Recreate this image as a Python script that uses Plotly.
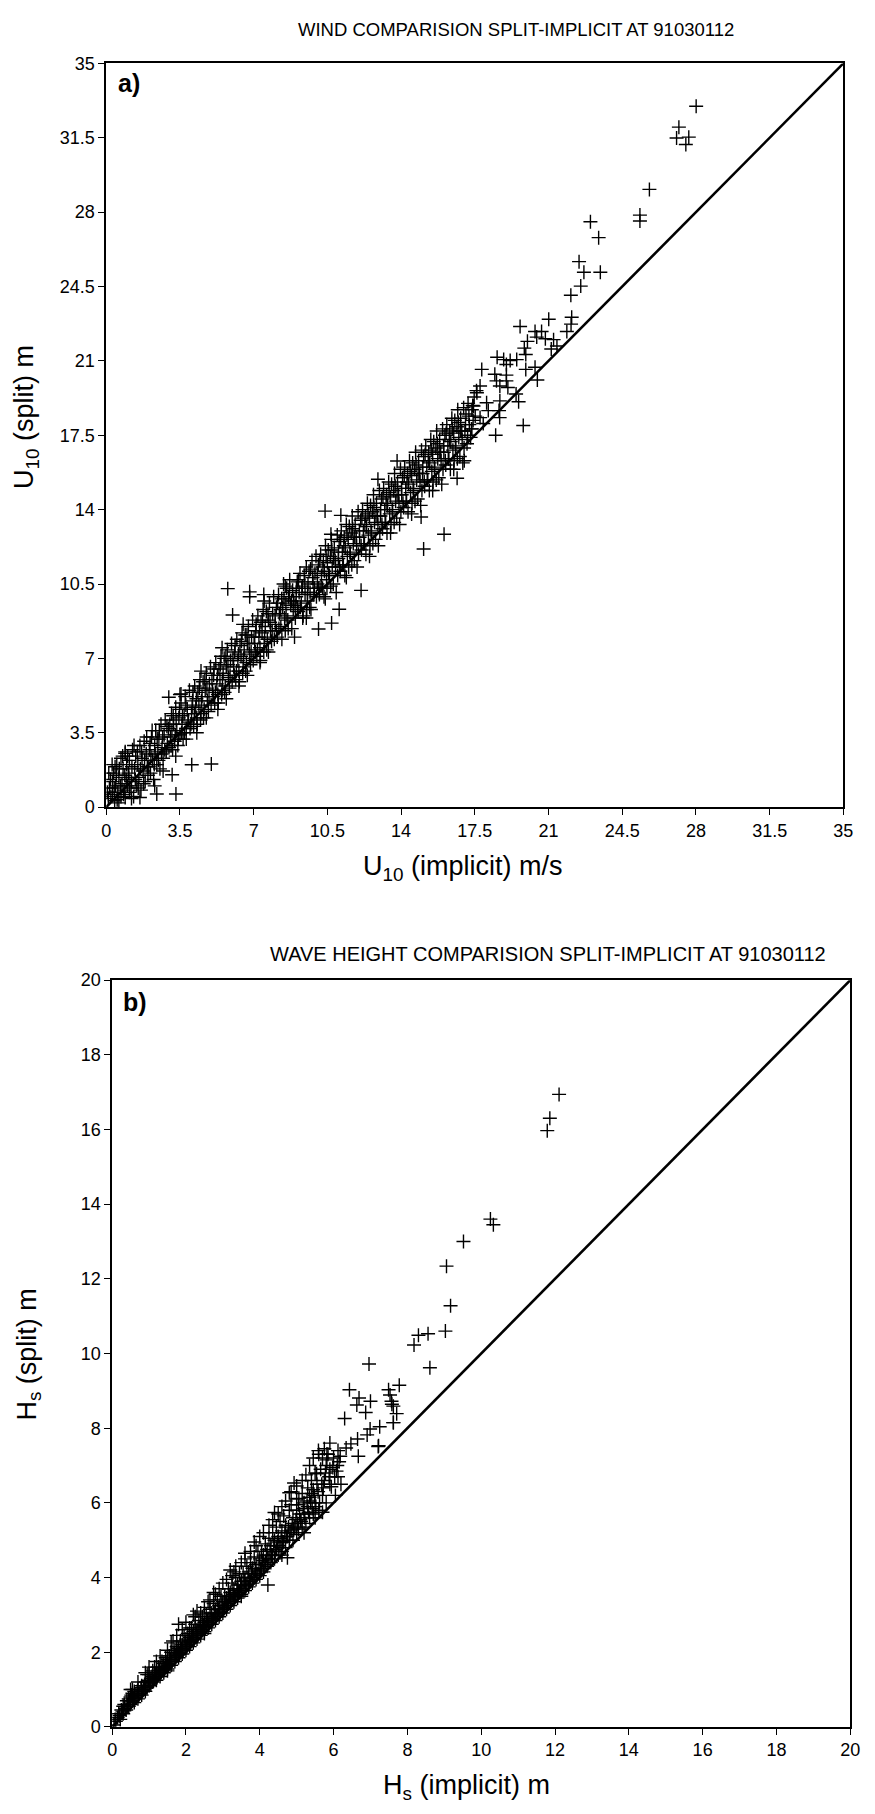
import plotly.graph_objects as go

W, H = 875, 1814

# ---------------- data: panel a (wind) ----------------
wind_band = [
    (0.1,0.4),(0.15,0.9),(0.2,1.3),(0.3,0.6),(0.35,1.6),(0.4,0.3),(0.45,1.0),(0.5,2.0),(0.55,0.7),(0.6,1.4),
    (0.7,0.5),(0.7,2.3),(0.75,1.1),(0.8,1.8),(0.85,0.8),(0.9,2.6),(0.95,1.3),(0.6,0.2),(0.3,1.2),(0.9,0.45),
    (1.05,1.6),(1.1,0.7),(1.1,2.2),(1.2,1.2),(1.25,2.7),(1.3,0.5),(1.35,1.8),(1.4,2.4),(1.45,1.0),(1.5,2.0),
    (1.55,1.4),(1.6,2.9),(1.65,0.8),(1.7,2.3),(1.75,1.7),(1.8,3.1),(1.85,1.2),(1.9,2.5),(1.95,1.9),(1.2,0.4),(1.6,0.45),(1.0,1.0),
    (2.05,2.7),(2.1,1.6),(2.15,3.3),(2.2,2.2),(2.25,1.3),(2.3,2.9),(2.35,3.6),(2.4,2.0),(2.45,2.6),(2.5,3.2),
    (2.55,1.8),(2.6,3.9),(2.65,2.8),(2.7,2.3),(2.75,3.4),(2.8,4.1),(2.85,2.6),(2.9,3.0),(2.95,3.7),(2.3,1.0),(2.7,1.7),
    (3.05,3.3),(3.1,4.4),(3.15,2.7),(3.2,3.9),(3.25,3.1),(3.3,4.7),(3.35,3.6),(3.4,2.9),(3.45,4.2),(3.5,3.4),
    (3.55,4.9),(3.6,3.9),(3.65,3.2),(3.7,4.4),(3.75,5.2),(3.8,3.7),(3.85,4.6),(3.9,4.1),(3.95,5.5),(3.3,2.4),(3.8,3.2),(3.5,5.3),
    (4.05,4.4),(4.1,5.0),(4.15,3.8),(4.2,5.7),(4.25,4.7),(4.3,4.2),(4.35,5.4),(4.4,4.8),(4.45,6.0),(4.5,4.4),
    (4.55,5.2),(4.6,5.9),(4.65,4.6),(4.7,5.5),(4.75,6.3),(4.8,5.0),(4.85,4.5),(4.9,5.8),(4.95,6.6),(4.3,3.5),(4.75,4.2),(4.5,6.4),
    (5.05,5.5),(5.1,6.2),(5.15,4.9),(5.2,6.8),(5.25,5.8),(5.3,5.3),(5.35,6.5),(5.4,6.0),(5.45,7.1),(5.5,5.5),
    (5.55,6.3),(5.6,7.0),(5.65,5.7),(5.7,6.6),(5.75,7.4),(5.8,6.1),(5.85,5.6),(5.9,6.9),(5.95,7.7),(5.3,4.6),(5.7,5.1),(5.5,7.5),
    (6.05,6.6),(6.1,7.3),(6.15,6.0),(6.2,7.9),(6.25,6.9),(6.3,6.4),(6.35,7.6),(6.4,7.1),(6.45,8.2),(6.5,6.6),
    (6.55,7.4),(6.6,8.1),(6.65,6.8),(6.7,7.7),(6.75,8.5),(6.8,7.2),(6.85,6.7),(6.9,8.0),(6.95,8.8),(6.3,5.7),(6.7,6.2),(6.5,8.6),
    (7.05,7.7),(7.1,8.3),(7.15,7.1),(7.2,9.0),(7.25,8.0),(7.3,7.5),(7.35,8.7),(7.4,8.2),(7.45,9.3),(7.5,7.7),
    (7.55,8.5),(7.6,9.2),(7.65,7.9),(7.7,8.8),(7.75,9.6),(7.8,8.3),(7.85,7.8),(7.9,9.1),(7.95,9.9),(7.3,6.8),(7.7,7.3),(7.5,9.7),
    (8.03,8.6),(8.08,9.4),(8.12,8.0),(8.18,10.0),(8.22,9.1),(8.29,8.5),(8.33,9.8),(8.38,9.4),(8.42,10.5),(8.47,8.9),
    (8.53,9.6),(8.57,10.3),(8.62,8.8),(8.66,9.9),(8.71,10.7),(8.76,9.5),(8.81,8.4),(8.85,10.2),(8.9,9.7),(8.94,8.0),(8.97,9.5),(8.5,10.4),
    (9.02,9.9),(9.07,10.6),(9.11,9.2),(9.16,10.1),(9.2,11.0),(9.26,9.6),(9.31,10.4),(9.35,9.0),(9.4,10.9),(9.44,10.0),
    (9.5,11.3),(9.55,9.7),(9.58,10.5),(9.63,11.1),(9.68,10.1),(9.72,9.3),(9.77,11.6),(9.82,10.6),(9.86,10.0),(9.91,11.0),(9.96,11.8),(9.5,8.9),
    (10.03,10.5),(10.07,11.4),(10.12,10.0),(10.18,11.9),(10.22,10.9),(10.27,10.3),(10.31,11.6),(10.36,11.1),(10.41,12.3),(10.46,10.7),
    (10.5,11.5),(10.54,12.1),(10.6,10.9),(10.64,11.8),(10.69,12.6),(10.73,11.3),(10.78,10.5),(10.83,12.2),(10.87,11.6),(10.92,10.1),(10.97,12.8),(10.4,9.8),
    (11.02,11.7),(11.06,12.5),(11.11,11.1),(11.16,13.0),(11.21,12.0),(11.26,11.4),(11.3,12.7),(11.35,12.2),(11.4,13.3),(11.45,11.8),
    (11.49,12.6),(11.54,13.2),(11.59,11.9),(11.63,12.9),(11.68,13.7),(11.73,12.4),(11.78,11.6),(11.82,13.3),(11.87,12.7),(11.91,11.3),(11.96,13.9),(11.4,10.8),
    (12.03,12.7),(12.08,13.5),(12.12,12.1),(12.17,14.0),(12.21,13.0),(12.26,12.4),(12.31,13.7),(12.36,13.2),(12.4,14.3),(12.45,12.8),
    (12.5,13.6),(12.55,14.2),(12.6,12.9),(12.64,13.9),(12.69,14.7),(12.74,13.4),(12.79,12.6),(12.83,14.3),(12.88,13.7),(12.92,12.3),(12.97,14.9),(12.5,11.8),
    (13.02,13.7),(13.07,14.5),(13.12,13.1),(13.17,15.0),(13.22,14.0),(13.27,13.4),(13.31,14.7),(13.36,14.2),(13.41,15.3),(13.46,13.8),
    (13.5,14.6),(13.55,15.2),(13.6,13.9),(13.65,14.9),(13.69,15.7),(13.74,14.4),(13.79,13.6),(13.83,15.3),(13.88,14.7),(13.93,13.3),(13.97,15.9),(13.5,12.9),
    (14.03,14.7),(14.07,15.5),(14.12,14.1),(14.17,16.0),(14.22,15.0),(14.26,14.4),(14.31,15.7),(14.36,15.2),(14.4,16.3),(14.45,14.8),
    (14.5,15.6),(14.55,16.2),(14.6,14.9),(14.64,15.9),(14.69,16.7),(14.74,15.4),(14.79,14.5),(14.83,16.3),(14.88,15.7),(14.93,14.2),(14.97,16.8),(14.5,13.8),
    (15.02,15.7),(15.07,16.5),(15.12,15.1),(15.17,17.0),(15.22,16.0),(15.27,15.4),(15.31,16.7),(15.36,16.2),(15.41,17.3),(15.46,15.8),
    (15.5,16.6),(15.55,17.2),(15.6,15.9),(15.65,16.9),(15.69,17.7),(15.74,16.4),(15.79,15.5),(15.83,17.3),(15.88,16.7),(15.93,15.2),(15.97,17.8),(15.5,14.9),
    (16.03,16.7),(16.08,17.5),(16.12,16.1),(16.17,18.0),(16.22,17.0),(16.27,16.4),(16.31,17.7),(16.36,17.2),(16.41,18.3),(16.46,16.8),
    (16.5,17.6),(16.55,18.2),(16.6,16.9),(16.65,17.9),(16.69,18.7),(16.74,17.4),(16.79,16.5),(16.83,18.3),(16.88,17.7),(16.93,16.2),(16.97,18.8),(16.5,15.9),
    (17.03,17.7),(17.08,18.5),(17.13,17.1),(17.18,19.0),(17.24,18.0),(17.3,17.4),(17.36,18.7),(17.42,18.2),(17.47,19.3),
]
wind_band_extra = [
    (0.05,0.7),(0.12,1.6),(0.22,0.5),(0.28,2.0),(0.38,0.9),(0.48,1.5),(0.52,0.35),(0.62,1.8),(0.68,1.0),(0.78,2.4),(0.82,0.6),(0.88,1.5),(0.97,2.0),(0.42,1.9),
    (1.02,2.4),(1.08,1.4),(1.18,0.9),(1.22,1.9),(1.32,2.9),(1.38,1.3),(1.48,2.6),(1.52,0.9),(1.62,1.8),(1.68,2.6),(1.78,1.1),(1.82,2.2),(1.92,3.3),(1.98,1.5),
    (2.02,1.9),(2.08,3.0),(2.12,2.4),(2.18,3.6),(2.28,2.0),(2.32,2.5),(2.42,3.2),(2.48,2.2),(2.52,3.6),(2.62,2.5),(2.68,3.3),(2.78,2.7),(2.88,3.8),(2.98,2.8),
    (3.02,3.9),(3.08,2.9),(3.12,3.6),(3.18,4.3),(3.28,3.4),(3.32,4.1),(3.42,3.2),(3.48,4.6),(3.58,3.5),(3.62,4.3),(3.72,3.5),(3.78,4.8),(3.88,4.0),(3.98,3.7),
    (4.02,3.9),(4.08,4.7),(4.12,5.4),(4.18,4.4),(4.28,5.1),(4.32,3.9),(4.42,5.6),(4.48,4.1),(4.52,5.0),(4.62,4.2),(4.68,6.0),(4.78,5.6),(4.88,5.2),(4.98,4.8),
    (5.02,6.0),(5.08,5.2),(5.12,6.5),(5.18,5.4),(5.28,6.2),(5.32,4.9),(5.42,6.7),(5.48,5.3),(5.52,6.0),(5.62,5.4),(5.68,7.1),(5.78,6.7),(5.88,6.2),(5.98,5.9),
    (6.02,7.0),(6.08,6.2),(6.12,7.6),(6.18,6.4),(6.28,7.2),(6.32,5.9),(6.42,7.8),(6.48,6.3),(6.52,7.0),(6.62,6.4),(6.68,8.1),(6.78,7.7),(6.88,7.3),(6.98,6.9),
    (7.02,8.0),(7.08,7.3),(7.12,8.6),(7.18,7.4),(7.28,8.3),(7.32,6.9),(7.42,8.8),(7.48,7.3),(7.52,8.0),(7.62,7.4),(7.68,9.1),(7.78,8.7),(7.88,8.3),(7.98,7.9),
    (8.02,9.0),(8.08,8.3),(8.14,9.6),(8.2,8.4),(8.28,9.3),(8.34,7.9),(8.44,9.8),(8.5,8.3),(8.54,9.0),(8.64,8.4),(8.7,10.1),(8.8,9.7),(8.88,9.3),(8.98,8.9),
    (9.03,10.3),(9.08,9.4),(9.13,10.7),(9.22,9.4),(9.29,10.3),(9.33,8.9),(9.43,10.6),(9.52,9.3),(9.56,10.1),(9.66,9.4),(9.7,11.2),(9.8,10.8),(9.88,10.3),(9.98,9.9),
    (10.02,11.0),(10.09,10.3),(10.14,11.6),(10.2,10.4),(10.29,11.3),(10.34,9.9),(10.44,11.8),(10.48,10.3),(10.56,11.0),(10.66,10.4),(10.71,12.1),(10.8,11.7),(10.89,11.3),(10.99,10.9),
    (11.03,12.0),(11.08,11.3),(11.13,12.6),(11.23,11.4),(11.28,12.3),(11.33,10.9),(11.43,12.8),(11.51,11.3),(11.57,12.0),(11.66,11.4),(11.7,13.1),(11.8,12.7),(11.89,12.3),(11.98,11.9),
    (12.02,13.0),(12.1,12.3),(12.14,13.6),(12.23,12.4),(12.28,13.3),(12.33,11.9),(12.43,13.8),(12.52,12.3),(12.57,13.0),(12.66,12.4),(12.71,14.1),(12.81,13.7),(12.9,13.3),(12.99,12.9),
    (13.03,14.0),(13.09,13.3),(13.14,14.6),(13.24,13.4),(13.29,14.3),(13.33,12.9),(13.43,14.8),(13.52,13.3),(13.58,14.0),(13.67,13.4),(13.72,15.1),(13.81,14.7),(13.9,14.3),(13.99,13.9),
    (14.02,15.0),(14.09,14.3),(14.15,15.6),(14.24,14.4),(14.28,15.3),(14.33,13.9),(14.43,15.8),(14.52,14.3),(14.57,15.0),(14.66,14.4),(14.71,16.1),(14.81,15.7),(14.9,15.3),(14.99,14.9),
    (15.03,16.0),(15.1,15.3),(15.14,16.6),(15.24,15.4),(15.29,16.3),(15.34,14.9),(15.43,16.8),(15.52,15.3),(15.58,16.0),(15.67,15.4),(15.72,17.1),(15.81,16.7),(15.9,16.3),(15.99,15.9),
    (16.02,17.0),(16.1,16.3),(16.14,17.6),(16.24,16.4),(16.29,17.3),(16.34,15.9),(16.43,17.8),(16.52,16.3),(16.58,17.0),(16.67,16.4),(16.72,18.1),(16.81,17.7),(16.9,17.3),(16.99,16.9),
    (17.06,18.0),(17.16,17.5),(17.22,18.4),(17.34,17.8),(17.4,18.9),(17.52,18.4),(17.58,19.6),
]
wind_scatter = [
    (5.77,10.28),(6.81,10.13),(6.81,9.9),(7.48,10.0),(6.0,9.04),(10.39,13.93),(11.14,13.73),(10.67,12.84),
    (12.9,15.43),(13.81,16.29),(16.04,12.84),(15.07,12.15),(12.1,10.2),(11.06,9.31),(10.7,8.66),(10.08,8.38),
    (14.95,13.65),(16.66,15.48),(17.0,16.3),(2.97,5.17),(3.55,5.32),(0.9,2.53),(4.06,1.99),(4.99,2.03),
    (2.4,0.62),(3.31,0.62),(3.13,1.52),
    (28.01,32.98),(27.19,32.0),(27.08,31.49),(27.66,31.53),(27.52,31.18),(25.79,29.07),(25.34,27.86),(25.34,27.58),
    (22.99,27.55),(23.38,26.8),(22.45,25.67),(22.68,25.17),(23.46,25.17),(22.53,24.52),(22.06,24.09),(21.01,22.96),
    (22.1,23.05),(22.07,22.73),(21.87,22.38),(19.65,22.62),(20.36,22.38),(20.67,22.38),(20.44,22.12),(20.85,22.04),
    (21.24,22.0),(20.0,21.92),(21.13,21.56),(21.4,21.7),(19.85,21.6),(19.92,21.3),(18.56,21.17),(18.87,21.06),
    (19.18,21.02),(19.49,21.06),(19.0,20.83),(19.92,20.6),(20.36,20.7),(17.83,20.6),(18.45,20.37),(19.0,20.33),
    (18.53,20.06),(19.0,20.06),(18.69,19.82),(19.07,19.75),(20.47,20.1),(19.46,19.44),(19.58,19.08),(18.69,19.12),
    (18.65,18.66),(19.8,17.96),(18.49,17.5),(17.75,19.82),(17.6,19.5),(18.06,19.03),(17.44,18.88),(18.14,18.66),
    (17.75,18.33),(17.9,18.05),(17.36,17.8),(18.68,18.33),
]
wind_ticks = [0, 3.5, 7, 10.5, 14, 17.5, 21, 24.5, 28, 31.5, 35]
wind_ticktext = ["0", "3.5", "7", "10.5", "14", "17.5", "21", "24.5", "28", "31.5", "35"]

# ---------------- data: panel b (wave height) ----------------
wave_band = [
    (0.05,0.05),(0.1,0.15),(0.15,0.25),(0.2,0.3),(0.25,0.45),(0.3,0.35),(0.3,0.55),(0.35,0.5),(0.4,0.7),(0.45,0.55),(0.45,0.75),(0.5,0.6),(0.5,0.8),
    (0.55,0.7),(0.55,0.9),(0.6,0.65),(0.6,0.95),(0.65,0.8),(0.7,0.75),(0.7,1.0),(0.75,0.9),(0.8,0.85),(0.8,1.1),(0.85,1.0),(0.9,0.95),(0.9,1.2),(0.95,1.05),(1.0,1.1),(1.0,1.4),(0.95,1.4),(0.55,1.0),
    (1.05,1.15),(1.05,1.3),(1.1,1.2),(1.1,1.5),(1.15,1.3),(1.2,1.25),(1.2,1.45),(1.25,1.4),(1.25,1.6),(1.3,1.35),(1.3,1.55),(1.35,1.5),(1.4,1.45),(1.4,1.7),(1.45,1.6),(1.5,1.55),(1.5,1.8),(1.45,1.85),(1.15,1.6),(1.35,1.75),
    (1.55,1.7),(1.55,1.9),(1.6,1.65),(1.6,2.0),(1.65,1.8),(1.7,1.75),(1.7,2.05),(1.75,1.9),(1.75,2.15),(1.8,1.85),(1.8,2.1),(1.85,2.0),(1.85,2.3),(1.9,1.95),(1.9,2.2),(1.95,2.1),(2.0,2.05),(2.0,2.35),(1.8,2.75),(1.65,2.3),(1.95,2.45),
    (2.05,2.2),(2.05,2.5),(2.1,2.15),(2.1,2.4),(2.15,2.3),(2.15,2.65),(2.2,2.25),(2.2,2.55),(2.25,2.4),(2.25,2.75),(2.3,2.35),(2.3,2.6),(2.35,2.5),(2.35,2.85),(2.4,2.45),(2.4,2.7),(2.45,2.6),(2.45,2.95),(2.5,2.55),(2.5,2.8),(2.2,3.0),(2.3,3.1),
    (2.55,2.7),(2.55,3.0),(2.6,2.65),(2.6,2.9),(2.65,2.8),(2.65,3.15),(2.7,2.75),(2.7,3.05),(2.75,2.9),(2.75,3.3),(2.8,2.85),(2.8,3.15),(2.85,3.0),(2.85,3.4),(2.9,2.95),(2.9,3.25),(2.95,3.1),(2.95,3.5),(3.0,3.05),(3.0,3.35),(2.6,3.35),(2.8,3.55),
    (3.05,3.2),(3.05,3.5),(3.1,3.15),(3.1,3.45),(3.15,3.3),(3.15,3.7),(3.2,3.25),(3.2,3.6),(3.2,4.2),(3.25,3.4),(3.25,3.85),(3.3,3.35),(3.3,3.7),(3.35,3.5),(3.35,4.0),(3.4,3.45),(3.4,3.8),(3.45,3.6),(3.45,4.1),(3.5,3.55),(3.5,3.9),(3.3,4.15),
    (3.55,3.7),(3.55,4.1),(3.6,3.65),(3.6,4.0),(3.65,3.8),(3.65,4.3),(3.7,3.75),(3.7,4.15),(3.75,3.9),(3.75,4.4),(3.8,3.85),(3.8,4.25),(3.85,4.0),(3.85,4.55),(3.9,3.95),(3.9,4.35),(3.95,4.1),(3.95,4.7),(4.0,4.05),(4.0,4.5),(3.6,4.5),(3.9,4.85),
    (4.05,4.25),(4.05,4.7),(4.1,4.15),(4.1,4.6),(4.15,4.4),(4.15,4.9),(4.2,4.3),(4.2,4.75),(4.22,3.8),(4.25,4.5),(4.25,5.05),(4.3,4.4),(4.3,4.85),(4.35,4.6),(4.35,5.2),(4.4,4.5),(4.4,5.0),(4.4,5.74),(4.45,4.75),(4.45,5.35),(4.5,4.6),(4.5,5.1),
    (4.55,4.8),(4.55,5.5),(4.6,4.7),(4.6,5.25),(4.65,4.95),(4.65,5.65),(4.7,4.8),(4.7,5.4),(4.75,4.53),(4.75,5.1),(4.8,5.0),(4.8,5.8),(4.8,6.27),(4.85,5.25),(4.85,5.95),(4.9,5.0),(4.9,5.6),(4.93,6.53),(4.95,5.35),(5.0,5.15),(5.0,5.8),(5.0,6.1),
    (5.05,5.3),(5.05,5.95),(5.06,6.12),(5.1,5.55),(5.15,5.35),(5.15,6.25),(5.2,5.7),(5.2,6.0),(5.25,5.45),(5.3,5.9),(5.3,6.4),(5.35,5.6),(5.35,6.15),(5.41,6.25),(5.4,6.6),(5.45,5.7),(5.45,6.35),(5.5,6.0),(5.5,6.8),(5.54,6.78),(5.5,5.6),
    (5.55,6.5),(5.59,7.4),(5.6,5.8),(5.65,6.9),(5.7,6.2),(5.7,7.2),(5.75,6.6),(5.8,7.0),(5.8,6.0),(5.85,7.3),(5.9,6.5),(5.9,6.9),(5.94,6.43),(6.0,7.2),(6.03,6.7),(6.05,6.2),(6.1,7.0),(6.12,6.7),(6.15,7.1),(6.2,6.5),
]
wave_band_extra = [
    (0.08,0.2),(0.18,0.35),(0.22,0.2),(0.28,0.4),(0.33,0.6),(0.38,0.45),(0.42,0.6),(0.48,0.7),(0.52,0.85),(0.58,0.75),(0.62,0.85),(0.68,0.95),(0.72,0.85),(0.78,1.05),(0.82,0.95),(0.88,1.1),(0.92,1.05),(0.98,1.25),
    (1.02,1.2),(1.08,1.35),(1.12,1.25),(1.18,1.4),(1.22,1.35),(1.28,1.5),(1.32,1.45),(1.38,1.6),(1.42,1.55),(1.48,1.7),(1.52,1.65),(1.58,1.8),(1.62,1.75),(1.68,1.95),(1.72,1.9),(1.78,2.0),(1.82,1.95),(1.88,2.1),(1.92,2.05),(1.98,2.25),
    (2.02,2.15),(2.08,2.3),(2.12,2.25),(2.18,2.45),(2.22,2.35),(2.28,2.5),(2.32,2.45),(2.38,2.65),(2.42,2.55),(2.48,2.7),(2.52,2.65),(2.58,2.85),(2.62,2.75),(2.68,2.95),(2.72,2.85),(2.78,3.05),(2.82,2.95),(2.88,3.15),(2.92,3.05),(2.98,3.25),
    (3.02,3.15),(3.08,3.35),(3.12,3.25),(3.18,3.5),(3.22,3.4),(3.28,3.55),(3.32,3.5),(3.38,3.65),(3.42,3.6),(3.48,3.8),(3.52,3.7),(3.58,3.9),(3.62,3.8),(3.68,4.0),(3.72,3.9),(3.78,4.1),(3.82,4.0),(3.88,4.2),(3.92,4.1),(3.98,4.35),
    (4.02,4.2),(4.08,4.45),(4.12,4.35),(4.18,4.6),(4.22,4.5),(4.28,4.7),(4.32,4.6),(4.38,4.85),(4.42,4.7),(4.48,4.95),(4.52,4.85),(4.58,5.05),(4.62,4.95),(4.68,5.2),(4.72,5.1),(4.78,5.35),(4.82,5.2),(4.88,5.45),(4.92,5.3),(4.98,5.55),
    (5.02,5.45),(5.08,5.7),(5.12,5.5),(5.18,5.85),(5.22,5.6),(5.28,6.05),(5.32,5.75),(5.38,6.0),(5.42,5.85),(5.48,6.2),(5.52,5.9),(5.58,6.3),(5.62,6.0),(5.68,6.5),(5.72,6.4),(5.78,6.8),(5.88,6.7),(5.98,6.95),(6.08,6.85),(6.18,7.25),
]
wave_band_upper = [
    (0.5,1.0),(0.7,1.2),(0.9,1.45),(1.0,1.6),(1.2,1.75),(1.3,1.9),(1.5,2.05),(1.6,2.25),(1.75,2.45),(1.9,2.6),
    (2.0,2.8),(2.1,2.65),(2.25,2.95),(2.4,3.05),(2.5,3.2),(2.65,3.4),(2.75,3.6),(2.9,3.7),(3.0,3.85),(3.1,3.95),
    (3.25,4.05),(3.35,4.3),(3.5,4.4),(3.6,4.65),(3.75,4.7),(3.85,4.95),(4.0,5.1),(4.1,5.2),(4.25,5.4),(4.35,5.55),
    (4.5,5.7),(4.6,5.9),(4.7,6.05),(4.85,6.3),(5.0,6.45),(5.15,6.6),(5.25,6.75),(5.35,7.0),(5.45,7.2),(5.6,7.3),
    (5.75,7.45),(5.9,7.6),(1.5,1.5),(2.5,2.5),(3.5,3.5),(4.6,4.6),(5.2,5.2),(5.7,5.75),
]
wave_scatter = [
    (12.11,16.94),(11.86,16.3),(11.79,15.97),(10.25,13.6),(10.33,13.45),(9.52,13.0),(9.06,12.34),(9.17,11.28),
    (9.03,10.6),(8.18,10.23),(8.3,10.49),(8.56,10.53),(8.61,9.62),(7.49,9.03),(7.53,8.89),(7.78,9.15),
    (7.58,8.64),(7.71,8.39),(7.62,8.15),(7.25,8.04),(7.22,7.53),
    (6.96,9.72),(6.43,9.03),(6.69,8.81),(7.0,8.72),(6.63,8.62),(7.57,8.72),(6.87,8.42),(7.62,8.59),
    (6.3,8.26),(7.62,8.15),(6.99,7.98),(6.91,7.82),(6.65,7.71),(6.47,7.58),(6.34,7.47),(7.21,7.51),
    (6.12,7.4),(5.82,7.31),(6.67,7.25),(5.82,7.15),
]
wave_ticks = [0, 2, 4, 6, 8, 10, 12, 14, 16, 18, 20]

# ---------------- figure ----------------
def px_x(p):
    return p / W

def px_y(p):
    return 1 - p / H

FONT = "Liberation Sans Narrow, Liberation Sans, Arial, sans-serif"
marker = dict(symbol="cross-thin", size=10, color="black", line=dict(color="black", width=1.4))

fig = go.Figure()

for pts, xa, ya in [(wind_band, "x", "y"), (wind_band_extra, "x", "y"), (wind_scatter, "x", "y"),
                    (wave_band, "x2", "y2"), (wave_band_extra, "x2", "y2"), (wave_band_upper, "x2", "y2"),
                    (wave_scatter, "x2", "y2")]:
    fig.add_trace(go.Scatter(x=[p[0] for p in pts], y=[p[1] for p in pts], mode="markers",
                             marker=marker, xaxis=xa, yaxis=ya, showlegend=False, hoverinfo="skip"))

fig.add_trace(go.Scatter(x=[wind_ticks[0], wind_ticks[-1]], y=[wind_ticks[0], wind_ticks[-1]],
                         mode="lines", line=dict(color="black", width=2.6), xaxis="x", yaxis="y",
                         showlegend=False, hoverinfo="skip"))
fig.add_trace(go.Scatter(x=[wave_ticks[0], wave_ticks[-1]], y=[wave_ticks[0], wave_ticks[-1]],
                         mode="lines", line=dict(color="black", width=2.6), xaxis="x2", yaxis="y2",
                         showlegend=False, hoverinfo="skip"))

axis_common = dict(showgrid=False, zeroline=False, showline=True, linecolor="black", linewidth=1.7,
                   mirror=True, ticks="outside", ticklen=6, tickwidth=1.4, tickcolor="black",
                   tickfont=dict(family=FONT, size=18, color="black"))

fig.update_layout(
    width=W, height=H, margin=dict(l=0, r=0, t=0, b=0),
    paper_bgcolor="white", plot_bgcolor="white",
    xaxis=dict(domain=[px_x(103), px_x(853)], range=[0, 35], anchor="y",
               tickvals=wind_ticks, ticktext=wind_ticktext, **axis_common),
    yaxis=dict(domain=[px_y(806), px_y(54)], range=[0, 35], anchor="x",
               tickvals=wind_ticks, ticktext=wind_ticktext, **axis_common),
    xaxis2=dict(domain=[px_x(109), px_x(860)], range=[0, 20], anchor="y2",
                tickvals=wave_ticks, **axis_common),
    yaxis2=dict(domain=[px_y(1736), px_y(981)], range=[0, 20], anchor="x2",
                tickvals=wave_ticks, **axis_common),
)

ann = []
def text(s, x, y, size, rot=0, bold=False, anchor="center"):
    ann.append(dict(text=("<b>%s</b>" % s) if bold else s, x=px_x(x), y=px_y(y), xref="paper", yref="paper",
                    showarrow=False, textangle=rot, xanchor=anchor, yanchor="middle",
                    font=dict(family=FONT if not bold else "Liberation Sans, Arial", size=size, color="black")))

text("WIND COMPARISION SPLIT-IMPLICIT AT 91030112", 520, 20, 18.5)
text("U<sub>10</sub> (implicit) m/s", 466, 868, 27)
text("U<sub>10</sub> (split) m", 22, 412, 27, rot=-90)
text("a)", 113, 74, 25, bold=True, anchor="left")

text("WAVE HEIGHT COMPARISION SPLIT-IMPLICIT AT 91030112", 552, 955, 20)
text("H<sub>s</sub> (implicit) m", 470, 1797, 27)
text("H<sub>s</sub> (split) m", 24, 1360, 27, rot=-90)
text("b)", 118, 1003, 25, bold=True, anchor="left")

fig.update_layout(annotations=ann)
fig.write_html("out.html")
